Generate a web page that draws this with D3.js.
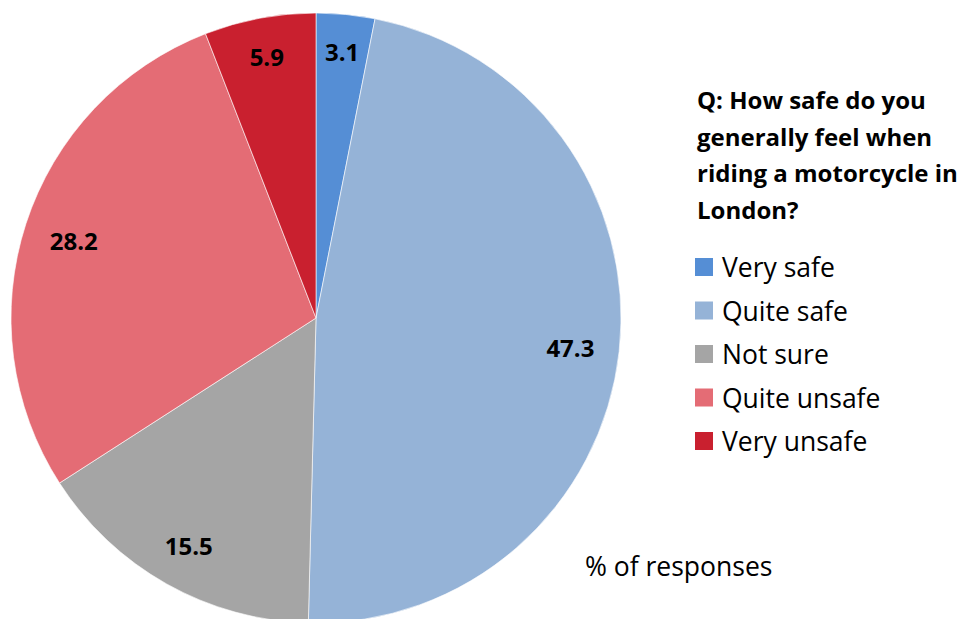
<!DOCTYPE html>
<html>
<head>
<meta charset="utf-8">
<script src="https://cdnjs.cloudflare.com/ajax/libs/d3/7.8.5/d3.min.js"></script>
<style>
  body { margin: 0; background: #fff; }
  text { font-family: "Open Sans", Lato, sans-serif; }
</style>
</head>
<body>
<svg id="chart" width="962" height="619"></svg>
<script>
// data (% of responses)
var categories = ["Very safe", "Quite safe", "Not sure", "Quite unsafe", "Very unsafe"];
var values = [3.1, 47.3, 15.5, 28.2, 5.9];
var colors = ["#558ed5", "#95b3d7", "#a5a5a5", "#e46c75", "#c9202f"];
var titleLines = ["Q: How safe do you", "generally feel when", "riding a motorcycle in", "London?"];

var svg = d3.select("#chart"),
    cx = 316, cy = 318, radius = 305;

var data = categories.map(function(c, i) { return { name: c, value: values[i] }; });

var pie = d3.pie()
  .sort(null)
  .value(function(d) { return d.value; });

var arc = d3.arc().innerRadius(0).outerRadius(radius);

var g = svg.append("g").attr("transform", "translate(" + cx + "," + cy + ")");

g.selectAll("path.slice")
  .data(pie(data))
  .enter().append("path")
  .attr("class", "slice")
  .attr("d", arc)
  .attr("fill", function(d, i) { return colors[i]; })
  .attr("stroke", "#fff")
  .attr("stroke-width", 0.6);

// labels "inside end": push the text box toward the rim
var labels = g.selectAll("text.lbl")
  .data(pie(data))
  .enter().append("text")
  .attr("class", "lbl")
  .attr("text-anchor", "middle")
  .attr("dominant-baseline", "central")
  .style("font-size", "24px")
  .style("font-weight", "bold")
  .attr("fill", "#000")
  .text(function(d) { return d.data.value.toFixed(1); });

labels.each(function(d) {
  var a = (d.startAngle + d.endAngle) / 2,
      w = this.getComputedTextLength(),
      h = 22,
      s = Math.sin(a), c = Math.cos(a),
      ext = Math.abs(s) * w / 2 + Math.abs(c) * h / 2,
      r = radius - 24 - ext;
  d3.select(this).attr("x", r * s).attr("y", -r * c + 1);
});

// title
svg.append("g").selectAll("text")
  .data(titleLines)
  .enter().append("text")
  .attr("x", 697)
  .attr("y", function(d, i) { return 109 + i * 36.5; })
  .style("font-size", "24px")
  .style("font-weight", "bold")
  .attr("fill", "#000")
  .text(function(d) { return d; });

// legend
var legend = svg.append("g").selectAll("g")
  .data(categories)
  .enter().append("g")
  .attr("transform", function(d, i) { return "translate(695," + (267 + i * 43.5) + ")"; });

legend.append("rect")
  .attr("x", 0).attr("y", -9)
  .attr("width", 18).attr("height", 18)
  .attr("fill", function(d, i) { return colors[i]; });

legend.append("text")
  .attr("x", 27)
  .attr("y", 0)
  .attr("dominant-baseline", "central")
  .style("font-size", "26.5px")
  .attr("fill", "#000")
  .text(function(d) { return d; });

svg.append("text")
  .attr("x", 585)
  .attr("y", 566)
  .attr("dominant-baseline", "central")
  .style("font-size", "26.5px")
  .attr("fill", "#000")
  .text("% of responses");
</script>
</body>
</html>
